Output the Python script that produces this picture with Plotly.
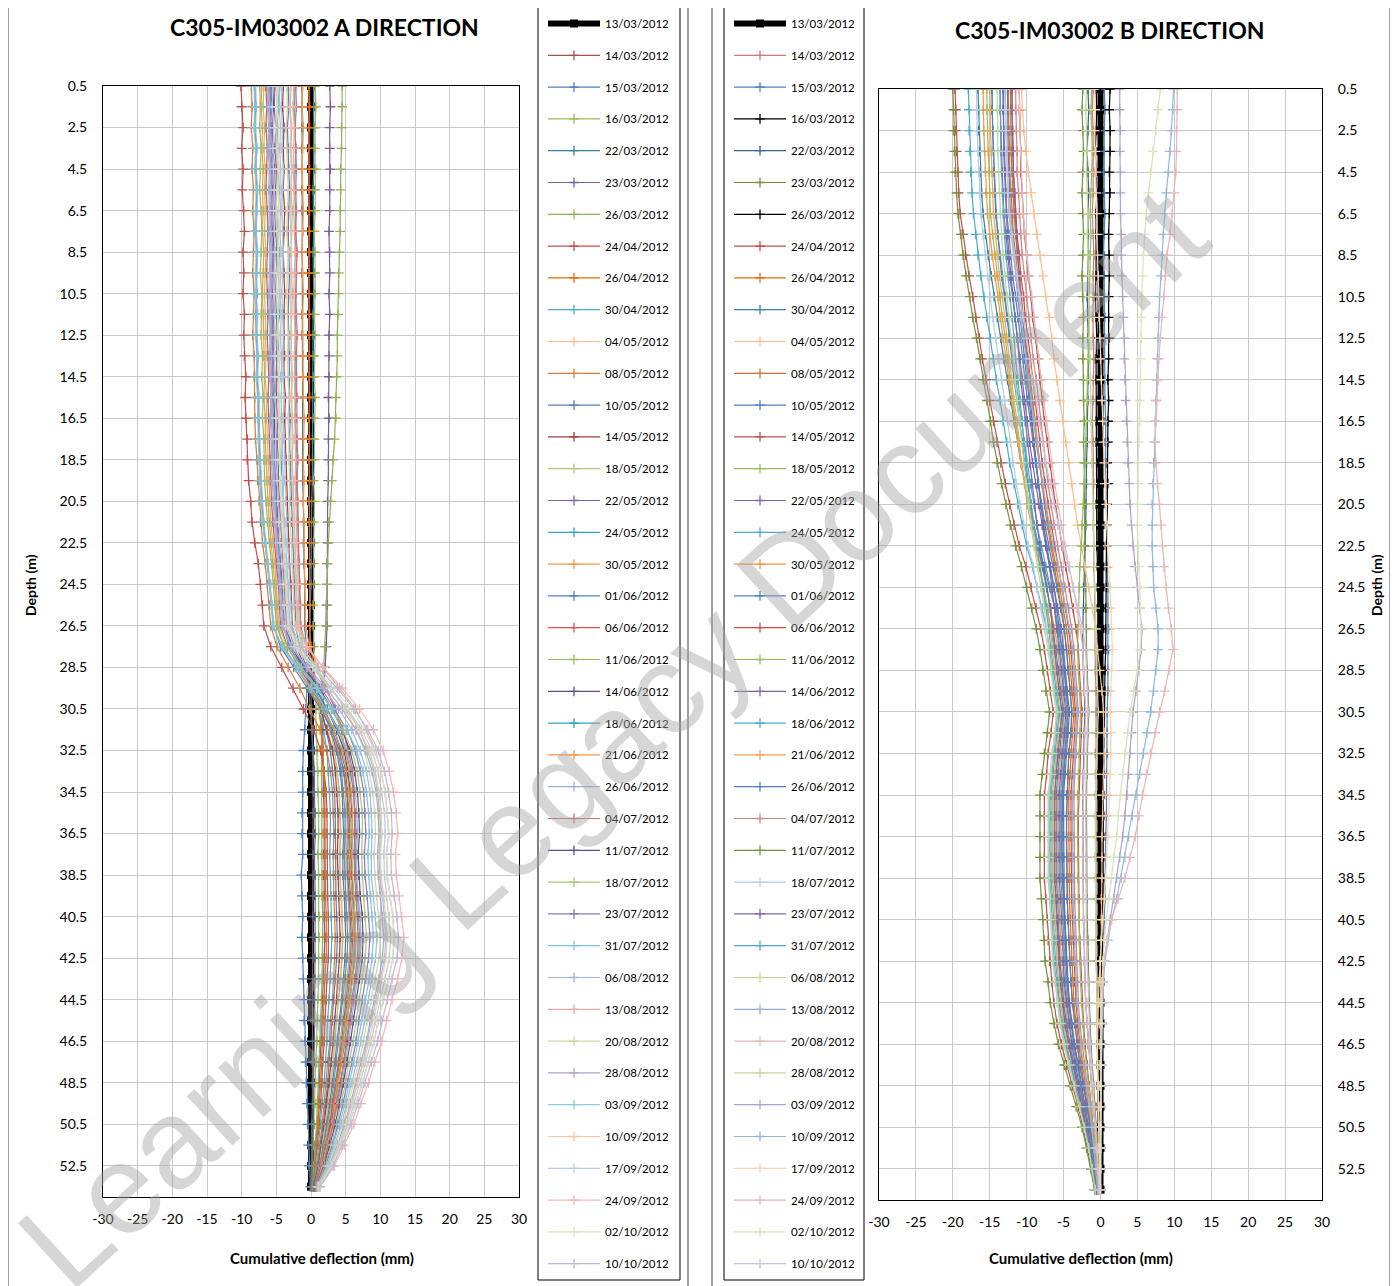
import plotly.graph_objects as go

DEPTH = [0.5, 1.5, 2.5, 3.5, 4.5, 5.5, 6.5, 7.5, 8.5, 9.5, 10.5, 11.5, 12.5, 13.5, 14.5, 15.5, 16.5, 17.5,
         18.5, 19.5, 20.5, 21.5, 22.5, 23.5, 24.5, 25.5, 26.5, 27.5, 28.5, 29.5, 30.5, 31.5, 32.5, 33.5, 34.5,
         35.5, 36.5, 37.5, 38.5, 39.5, 40.5, 41.5, 42.5, 43.5, 44.5, 45.5, 46.5, 47.5, 48.5, 49.5, 50.5, 51.5,
         52.5, 53.5]
DATES = ["13/03/2012", "14/03/2012", "15/03/2012", "16/03/2012", "22/03/2012", "23/03/2012", "26/03/2012",
         "24/04/2012", "26/04/2012", "30/04/2012", "04/05/2012", "08/05/2012", "10/05/2012", "14/05/2012",
         "18/05/2012", "22/05/2012", "24/05/2012", "30/05/2012", "01/06/2012", "06/06/2012", "11/06/2012",
         "14/06/2012", "18/06/2012", "21/06/2012", "26/06/2012", "04/07/2012", "11/07/2012", "18/07/2012",
         "23/07/2012", "31/07/2012", "06/08/2012", "13/08/2012", "20/08/2012", "28/08/2012", "03/09/2012",
         "10/09/2012", "17/09/2012", "24/09/2012", "02/10/2012", "10/10/2012"]
X_TICKS = [-30, -25, -20, -15, -10, -5, 0, 5, 10, 15, 20, 25, 30]
X_TICK_LABELS = ["-30", "-25", "-20", "-15", "-10", "-5", "0", "5", "10", "15", "20", "25", "30"]
Y_TICKS = [0.5, 2.5, 4.5, 6.5, 8.5, 10.5, 12.5, 14.5, 16.5, 18.5, 20.5, 22.5, 24.5, 26.5, 28.5, 30.5, 32.5,
           34.5, 36.5, 38.5, 40.5, 42.5, 44.5, 46.5, 48.5, 50.5, 52.5]

# ---------------- A direction (mm) ----------------
A_13_03 = [0, 0, 0, 0, 0, 0, 0, 0, 0, 0, 0, 0, 0, 0, 0, 0, 0, 0, 0, 0, 0, 0, 0, 0, 0, 0, 0,
           0, 0, 0, 0, 0, 0, 0, 0, 0, 0, 0, 0, 0, 0, 0, 0, 0, 0, 0, 0, 0, 0, 0, 0, 0, 0, 0]
A_14_03 = [-0.3,-0.3,-0.2,-0.3,-0.3,-0.2,-0.3,-0.3,-0.2,-0.3,-0.3,-0.3,-0.2,-0.3,-0.3,-0.2,-0.3,-0.3,-0.3,-0.2,-0.3,-0.2,-0.2,-0.2,-0.2,-0.2,-0.2,
           -0.2,-0.1,0.0,0.1,0.1,0.2,0.3,0.3,0.3,0.3,0.3,0.3,0.3,0.3,0.3,0.3,0.3,0.3,0.2,0.2,0.2,0.2,0.2,0.1,0.1,0.1,0.0]
A_15_03 = [0.4,0.4,0.5,0.4,0.4,0.3,0.4,0.4,0.3,0.4,0.4,0.3,0.3,0.3,0.3,0.2,0.3,0.2,0.2,0.2,0.1,0.1,0.1,0.0,0.0,-0.1,-0.1,
           -0.2,-0.4,-0.6,-0.8,-0.9,-1.1,-1.2,-1.2,-1.3,-1.3,-1.2,-1.4,-1.3,-1.2,-1.3,-1.2,-1.1,-1.0,-1.0,-0.9,-0.8,-0.7,-0.6,-0.5,-0.4,-0.3,-0.1]
A_16_03 = [0.6,0.7,0.6,0.6,0.7,0.6,0.6,0.5,0.6,0.6,0.6,0.5,0.6,0.5,0.5,0.6,0.5,0.5,0.5,0.4,0.5,0.4,0.4,0.4,0.4,0.3,0.3,
           0.4,0.5,0.6,0.7,0.8,0.9,1.0,1.0,1.1,1.1,1.0,1.1,1.1,1.2,1.2,1.1,1.1,1.0,0.9,0.9,0.8,0.7,0.6,0.5,0.4,0.3,0.1]
A_22_03 = [-1.3,-1.3,-1.3,-1.3,-1.3,-1.3,-1.3,-1.2,-1.3,-1.3,-1.2,-1.3,-1.3,-1.2,-1.2,-1.2,-1.2,-1.2,-1.2,-1.2,-1.1,-1.1,-1.1,-1.0,-0.9,-0.9,-0.9,
           -0.7,-0.5,-0.2,0.0,0.2,0.4,0.5,0.5,0.6,0.6,0.5,0.6,0.6,0.6,0.6,0.6,0.6,0.5,0.5,0.5,0.4,0.4,0.3,0.3,0.2,0.2,0.1]
A_23_03 = [2.7,2.8,2.7,2.7,2.8,2.7,2.7,2.6,2.7,2.7,2.6,2.7,2.6,2.6,2.6,2.5,2.6,2.5,2.5,2.5,2.4,2.4,2.4,2.3,2.3,2.3,2.3,
           2.2,2.0,1.8,1.7,1.7,1.7,1.8,1.8,1.9,1.9,1.8,1.8,1.9,1.9,2.0,1.9,1.8,1.7,1.6,1.5,1.4,1.2,1.1,0.9,0.7,0.5,0.2]
A_26_03 = [4.5,4.5,4.4,4.4,4.3,4.3,4.2,4.2,4.1,4.0,4.0,3.9,3.8,3.8,3.7,3.6,3.6,3.4,3.2,3.0,2.8,2.6,2.5,2.4,2.3,2.2,2.2,
           2.0,1.8,1.6,1.5,1.5,1.5,1.5,1.6,1.6,1.6,1.5,1.6,1.6,1.7,1.7,1.6,1.6,1.5,1.4,1.3,1.2,1.1,0.9,0.8,0.6,0.4,0.2]
A_24_04 = [-10.1,-10.0,-9.8,-10.0,-9.8,-9.9,-9.7,-9.6,-9.8,-9.7,-9.8,-9.6,-9.7,-9.6,-9.4,-9.5,-9.4,-9.2,-9.2,-9.0,-8.7,-8.5,-8.1,-7.6,-7.3,-7.0,-6.8,
           -5.8,-4.2,-2.6,-1.1,0.4,1.4,1.9,2.2,2.3,2.3,2.3,2.3,2.4,2.5,2.5,2.5,2.3,2.2,2.0,1.9,1.7,1.6,1.4,1.2,0.9,0.6,0.3]
A_26_04 = [-0.3,-0.2,-0.3,-0.3,-0.2,-0.3,-0.3,-0.2,-0.3,-0.3,-0.3,-0.2,-0.3,-0.3,-0.3,-0.2,-0.3,-0.3,-0.3,-0.2,-0.3,-0.3,-0.2,-0.2,-0.2,-0.2,-0.2,
           0.0,0.4,0.8,1.2,1.5,1.7,1.9,2.0,2.0,2.0,2.0,2.0,2.1,2.2,2.2,2.2,2.0,1.9,1.8,1.7,1.5,1.4,1.2,1.0,0.8,0.6,0.2]
A_30_04 = [-2.3,-2.4,-2.3,-2.2,-2.3,-2.4,-2.2,-2.3,-2.2,-2.1,-2.2,-2.3,-2.2,-2.2,-2.1,-2.2,-2.3,-2.1,-2.0,-2.1,-2.0,-1.9,-1.9,-1.8,-1.7,-1.6,-1.5,
           -1.2,-0.4,0.5,1.1,1.8,2.3,2.5,2.7,2.8,2.8,2.7,2.8,2.9,2.9,3.0,2.9,2.8,2.6,2.4,2.3,2.1,1.9,1.6,1.4,1.1,0.8,0.3]
A_04_05 = [-5.9,-6.0,-5.8,-5.9,-5.7,-5.8,-5.7,-5.8,-5.6,-5.7,-5.8,-5.7,-5.6,-5.7,-5.6,-5.5,-5.6,-5.5,-5.4,-5.3,-5.1,-5.0,-4.8,-4.6,-4.3,-4.1,-4.0,
           -3.1,-1.7,-0.2,1.1,2.4,3.2,3.7,4.0,4.1,4.2,4.1,4.1,4.3,4.4,4.5,4.4,4.2,3.9,3.7,3.4,3.1,2.8,2.4,2.1,1.6,1.1,0.5]
A_08_05 = [-8.6,-8.5,-8.6,-8.4,-8.5,-8.3,-8.4,-8.2,-8.3,-8.4,-8.2,-8.3,-8.4,-8.2,-8.2,-8.1,-8.1,-8.0,-7.8,-7.7,-7.5,-7.3,-7.0,-6.6,-6.3,-6.0,-5.8,
           -4.9,-3.3,-1.6,-0.2,1.3,2.3,2.8,3.1,3.2,3.3,3.2,3.2,3.3,3.4,3.5,3.4,3.3,3.1,2.8,2.7,2.4,2.2,1.9,1.6,1.3,0.9,0.4]
A_10_05 = [-3.3,-3.2,-3.4,-3.3,-3.2,-3.1,-3.2,-3.3,-3.2,-3.1,-3.2,-3.3,-3.2,-3.1,-3.1,-3.2,-3.0,-3.1,-3.0,-2.9,-2.9,-2.8,-2.7,-2.5,-2.4,-2.3,-2.2,
           -1.7,-0.7,0.4,1.4,2.2,2.8,3.1,3.4,3.5,3.5,3.5,3.5,3.6,3.7,3.8,3.7,3.5,3.3,3.1,2.9,2.6,2.4,2.1,1.8,1.4,1.0,0.4]
A_14_05 = [-4.0,-4.1,-3.9,-4.0,-3.9,-4.0,-3.8,-3.9,-4.0,-3.9,-3.8,-3.9,-3.9,-3.8,-3.9,-3.7,-3.8,-3.7,-3.6,-3.6,-3.5,-3.4,-3.2,-3.1,-2.9,-2.8,-2.7,
           -2.1,-0.9,0.4,1.4,2.3,3.1,3.5,3.7,3.9,3.9,3.8,3.9,4.0,4.1,4.2,4.1,3.9,3.7,3.4,3.2,2.9,2.6,2.3,1.9,1.5,1.1,0.4]
A_18_05 = [-2.9,-3.0,-2.8,-2.9,-2.8,-2.9,-2.7,-2.8,-2.9,-2.8,-2.7,-2.8,-2.9,-2.8,-2.7,-2.8,-2.7,-2.6,-2.7,-2.6,-2.5,-2.5,-2.3,-2.2,-2.1,-2.0,-1.9,
           -1.3,-0.3,0.9,2.0,2.8,3.4,3.8,4.1,4.2,4.3,4.2,4.2,4.4,4.5,4.6,4.5,4.3,4.0,3.7,3.5,3.2,2.9,2.5,2.1,1.7,1.2,0.5]
A_22_05 = [-5.2,-5.3,-5.1,-5.2,-5.0,-5.1,-5.0,-5.1,-4.9,-5.0,-5.1,-5.0,-4.9,-5.0,-4.9,-5.0,-4.8,-4.9,-4.7,-4.7,-4.6,-4.4,-4.2,-4.0,-3.8,-3.6,-3.5,
           -2.7,-1.3,0.2,1.6,2.8,3.7,4.2,4.5,4.6,4.7,4.6,4.6,4.8,4.9,5.0,4.9,4.7,4.4,4.1,3.8,3.5,3.1,2.7,2.3,1.8,1.3,0.5]
A_24_05 = [-4.8,-4.7,-4.9,-4.8,-4.7,-4.6,-4.7,-4.8,-4.6,-4.7,-4.7,-4.6,-4.8,-4.6,-4.5,-4.6,-4.5,-4.4,-4.4,-4.3,-4.2,-4.1,-3.9,-3.7,-3.5,-3.4,-3.2,
           -2.5,-1.0,0.5,1.9,3.0,3.9,4.4,4.7,4.9,4.9,4.8,4.9,5.0,5.2,5.3,5.2,4.9,4.6,4.3,4.0,3.7,3.3,2.9,2.4,1.9,1.3,0.5]
A_30_05 = [-7.1,-7.2,-7.0,-7.1,-6.9,-7.0,-6.9,-7.0,-6.8,-6.9,-7.0,-6.9,-6.8,-6.8,-6.7,-6.8,-6.6,-6.6,-6.5,-6.4,-6.2,-6.0,-5.8,-5.5,-5.2,-5.0,-4.8,
           -3.9,-2.1,-0.3,1.5,2.9,4.0,4.7,5.0,5.2,5.2,5.1,5.2,5.3,5.5,5.6,5.5,5.2,4.9,4.5,4.3,3.9,3.5,3.0,2.6,2.0,1.4,0.6]
A_01_06 = [-8.1,-8.0,-8.1,-7.9,-8.0,-7.8,-7.9,-8.0,-7.8,-7.9,-7.8,-8.0,-7.9,-7.7,-7.8,-7.6,-7.6,-7.5,-7.4,-7.3,-7.1,-6.9,-6.6,-6.2,-5.9,-5.7,-5.4,
           -4.4,-2.5,-0.5,1.4,3.0,4.1,4.7,5.2,5.3,5.4,5.3,5.3,5.5,5.7,5.8,5.7,5.4,5.1,4.7,4.4,4.0,3.6,3.1,2.7,2.1,1.5,0.6]
A_06_06 = [-6.5,-6.4,-6.5,-6.3,-6.4,-6.5,-6.3,-6.2,-6.3,-6.4,-6.3,-6.2,-6.3,-6.2,-6.1,-6.2,-6.1,-6.0,-5.9,-5.9,-5.7,-5.5,-5.3,-5.0,-4.7,-4.6,-4.4,
           -3.4,-1.7,0.2,1.9,3.3,4.3,5.0,5.3,5.5,5.6,5.5,5.5,5.7,5.9,6.0,5.9,5.6,5.2,4.9,4.6,4.1,3.7,3.2,2.8,2.2,1.5,0.6]
A_11_06 = [-7.4,-7.3,-7.4,-7.2,-7.3,-7.4,-7.2,-7.1,-7.2,-7.3,-7.1,-7.2,-7.2,-7.0,-7.1,-6.9,-7.0,-6.8,-6.8,-6.7,-6.5,-6.3,-6.0,-5.7,-5.4,-5.2,-5.0,
           -3.9,-2.1,-0.1,1.7,3.3,4.5,5.2,5.5,5.7,5.8,5.6,5.7,5.9,6.1,6.2,6.1,5.8,5.4,5.0,4.7,4.3,3.8,3.4,2.9,2.2,1.6,0.6]
A_14_06 = [-5.5,-5.4,-5.6,-5.4,-5.3,-5.4,-5.3,-5.4,-5.2,-5.3,-5.4,-5.3,-5.2,-5.3,-5.2,-5.1,-5.2,-5.1,-5.0,-5.0,-4.8,-4.7,-4.5,-4.2,-4.0,-3.9,-3.7,
           -2.8,-1.1,0.7,2.3,3.7,4.8,5.3,5.7,5.9,6.0,5.8,5.9,6.1,6.3,6.4,6.3,6.0,5.6,5.2,4.9,4.4,4.0,3.5,2.9,2.3,1.6,0.6]
A_18_06 = [-6.0,-6.1,-5.9,-6.0,-5.8,-5.9,-5.8,-5.9,-5.7,-5.8,-5.9,-5.8,-5.7,-5.8,-5.7,-5.6,-5.7,-5.5,-5.5,-5.4,-5.3,-5.1,-4.9,-4.6,-4.4,-4.2,-4.0,
           -3.1,-1.3,0.7,2.4,4.0,5.0,5.7,6.1,6.3,6.3,6.2,6.3,6.5,6.7,6.8,6.7,6.3,5.9,5.5,5.2,4.7,4.2,3.7,3.1,2.5,1.7,0.7]
A_21_06 = [-1.2,-1.3,-1.1,-1.2,-1.3,-1.2,-1.1,-1.2,-1.3,-1.2,-1.1,-1.2,-1.2,-1.1,-1.2,-1.1,-1.0,-1.1,-1.1,-1.0,-1.1,-1.0,-1.0,-0.9,-0.9,-0.8,-0.8,
           -0.2,1.0,2.3,3.5,4.4,5.0,5.5,5.8,6.0,6.0,5.9,6.0,6.2,6.4,6.5,6.4,6.0,5.7,5.3,4.9,4.5,4.0,3.5,3.0,2.3,1.6,0.7]
A_26_06 = [-8.0,-7.9,-8.0,-7.8,-7.9,-7.7,-7.8,-7.9,-7.7,-7.8,-7.9,-7.7,-7.8,-7.6,-7.7,-7.5,-7.5,-7.4,-7.3,-7.2,-7.0,-6.8,-6.5,-6.2,-5.8,-5.6,-5.4,
           -4.2,-2.1,0.1,2.2,3.9,5.2,5.9,6.4,6.6,6.7,6.6,6.6,6.8,7.1,7.2,7.1,6.7,6.3,5.8,5.5,5.0,4.5,3.9,3.3,2.6,1.8,0.7]
A_04_07 = [-2.2,-2.1,-2.3,-2.2,-2.1,-2.2,-2.1,-2.2,-2.0,-2.1,-2.2,-2.1,-2.0,-2.1,-2.1,-2.0,-2.1,-2.0,-1.9,-2.0,-1.9,-1.9,-1.8,-1.7,-1.6,-1.5,-1.5,
           -0.7,0.6,2.1,3.5,4.6,5.4,6.0,6.2,6.4,6.5,6.4,6.4,6.7,6.9,7.0,6.9,6.5,6.1,5.7,5.3,4.8,4.3,3.8,3.2,2.5,1.8,0.7]
A_11_07 = [-5.6,-5.7,-5.5,-5.6,-5.4,-5.5,-5.4,-5.5,-5.3,-5.4,-5.5,-5.4,-5.3,-5.4,-5.3,-5.2,-5.3,-5.2,-5.1,-5.0,-4.9,-4.8,-4.5,-4.3,-4.1,-3.9,-3.8,
           -2.8,-0.9,1.2,3.0,4.5,5.6,6.3,6.7,6.9,7.0,6.8,6.9,7.1,7.4,7.5,7.4,7.0,6.5,6.1,5.7,5.2,4.7,4.1,3.5,2.7,1.9,0.8]
A_18_07 = [-6.8,-6.9,-6.7,-6.8,-6.6,-6.7,-6.6,-6.7,-6.5,-6.6,-6.7,-6.6,-6.5,-6.5,-6.6,-6.4,-6.4,-6.3,-6.2,-6.1,-6.0,-5.8,-5.5,-5.2,-5.0,-4.8,-4.6,
           -3.5,-1.4,1.0,2.9,4.6,5.9,6.7,7.1,7.4,7.4,7.3,7.4,7.6,7.8,8.0,7.8,7.4,7.0,6.5,6.1,5.5,5.0,4.3,3.7,2.9,2.0,0.8]
A_23_07 = [-5.8,-5.9,-5.7,-5.8,-5.6,-5.7,-5.6,-5.7,-5.5,-5.6,-5.7,-5.6,-5.5,-5.6,-5.5,-5.4,-5.5,-5.4,-5.3,-5.2,-5.1,-4.9,-4.7,-4.5,-4.2,-4.1,-3.9,
           -2.8,-0.8,1.5,3.4,5.2,6.4,7.1,7.6,7.8,7.9,7.7,7.8,8.1,8.3,8.5,8.3,7.9,7.4,6.9,6.5,5.9,5.3,4.6,3.9,3.1,2.1,0.9]
A_31_07 = [-8.2,-8.1,-8.2,-8.0,-8.1,-7.9,-8.0,-8.1,-7.9,-8.0,-8.1,-7.9,-8.0,-7.8,-7.9,-7.7,-7.7,-7.6,-7.5,-7.4,-7.2,-7.0,-6.6,-6.3,-6.0,-5.7,-5.5,
           -4.2,-1.7,0.8,3.1,5.2,6.6,7.5,8.0,8.3,8.4,8.2,8.3,8.6,8.8,9.0,8.8,8.4,7.8,7.3,6.8,6.2,5.6,4.9,4.1,3.2,2.3,0.9]
A_06_08 = [-6.1,-6.0,-6.0,-5.9,-5.9,-5.8,-5.9,-5.8,-5.7,-5.8,-5.8,-5.9,-5.8,-5.7,-5.8,-5.7,-5.6,-5.6,-5.5,-5.4,-5.3,-5.1,-4.9,-4.6,-4.4,-4.2,-4.0,
           -2.8,-0.6,1.8,4.0,5.9,7.1,8.0,8.5,8.7,8.8,8.7,8.7,9.0,9.3,9.5,9.3,8.8,8.3,7.7,7.2,6.6,5.9,5.1,4.4,3.4,2.4,1.0]
A_13_08 = [-2.5,-2.6,-2.4,-2.5,-2.6,-2.4,-2.5,-2.4,-2.3,-2.4,-2.5,-2.4,-2.3,-2.4,-2.4,-2.3,-2.4,-2.3,-2.2,-2.3,-2.2,-2.1,-2.0,-1.9,-1.8,-1.8,-1.7,
           -0.5,1.7,4.1,6.4,8.0,9.3,10.1,10.7,11.0,11.2,10.9,11.0,11.4,11.8,12.0,11.8,11.2,10.4,9.7,9.1,8.3,7.4,6.5,5.5,4.3,3.0,1.2]
A_20_08 = [-3.5,-3.4,-3.6,-3.5,-3.4,-3.3,-3.4,-3.5,-3.3,-3.4,-3.5,-3.4,-3.3,-3.4,-3.3,-3.2,-3.3,-3.2,-3.2,-3.1,-3.1,-3.0,-2.8,-2.7,-2.6,-2.5,-2.3,
           -1.3,0.7,2.9,4.9,6.5,7.7,8.4,8.9,9.2,9.3,9.1,9.2,9.5,9.8,10.0,9.8,9.3,8.7,8.1,7.6,6.9,6.2,5.4,4.6,3.6,2.5,1.0]
A_28_08 = [-6.2,-6.3,-6.1,-6.2,-6.0,-6.1,-6.0,-6.1,-5.9,-6.0,-6.1,-6.0,-5.9,-6.0,-5.9,-5.8,-5.9,-5.7,-5.7,-5.6,-5.5,-5.3,-5.0,-4.8,-4.5,-4.3,-4.2,
           -2.9,-0.5,2.2,4.5,6.5,7.9,8.8,9.4,9.7,9.8,9.6,9.7,10.0,10.3,10.5,10.3,9.8,9.1,8.5,8.0,7.2,6.5,5.7,4.8,3.8,2.6,1.1]
A_03_09 = [-4.5,-4.6,-4.4,-4.5,-4.4,-4.3,-4.4,-4.5,-4.3,-4.4,-4.5,-4.3,-4.4,-4.3,-4.2,-4.3,-4.2,-4.1,-4.1,-4.0,-4.0,-3.8,-3.6,-3.5,-3.3,-3.2,-3.0,
           -1.8,0.4,2.9,5.2,7.0,8.2,9.1,9.6,9.9,10.0,9.8,9.9,10.3,10.6,10.8,10.6,10.0,9.4,8.8,8.2,7.5,6.7,5.8,5.0,3.9,2.7,1.1]
A_10_09 = [-5.0,-4.9,-5.1,-5.0,-4.8,-4.9,-5.0,-4.9,-4.8,-4.9,-5.0,-4.8,-4.9,-4.8,-4.7,-4.8,-4.7,-4.6,-4.6,-4.5,-4.4,-4.3,-4.1,-3.9,-3.7,-3.5,-3.4,
           -2.1,0.2,2.8,5.1,7.0,8.4,9.3,9.8,10.1,10.2,10.0,10.1,10.5,10.8,11.0,10.8,10.2,9.6,8.9,8.4,7.6,6.8,5.9,5.1,4.0,2.8,1.1]
A_17_09 = [-5.5,-5.6,-5.4,-5.5,-5.4,-5.3,-5.4,-5.3,-5.2,-5.3,-5.4,-5.3,-5.2,-5.3,-5.2,-5.2,-5.1,-5.1,-5.1,-4.9,-4.8,-4.7,-4.5,-4.2,-4.0,-3.9,-3.7,
           -2.4,0.2,2.8,5.3,7.3,8.8,9.7,10.2,10.6,10.7,10.5,10.6,10.9,11.3,11.5,11.3,10.7,10.0,9.3,8.7,7.9,7.1,6.2,5.3,4.1,2.9,1.2]
A_24_09 = [-3.0,-3.1,-2.9,-3.0,-2.8,-2.9,-3.0,-2.9,-2.8,-2.9,-3.0,-2.9,-2.8,-2.9,-2.8,-2.9,-2.8,-2.7,-2.8,-2.7,-2.6,-2.6,-2.4,-2.3,-2.2,-2.1,-2.0,
           -0.7,1.8,4.5,7.0,9.0,10.4,11.3,11.9,12.3,12.5,12.2,12.3,12.7,13.1,13.4,13.1,12.5,11.7,10.9,10.2,9.2,8.3,7.2,6.2,4.8,3.4,1.3]
A_02_10 = [-4.8,-4.9,-4.7,-4.8,-4.6,-4.7,-4.7,-4.6,-4.7,-4.6,-4.7,-4.8,-4.6,-4.6,-4.6,-4.5,-4.5,-4.4,-4.5,-4.3,-4.2,-4.1,-3.9,-3.7,-3.5,-3.4,-3.2,
           -1.9,0.6,3.3,5.8,7.7,9.2,10.1,10.7,11.0,11.2,10.9,11.0,11.4,11.8,12.0,11.8,11.2,10.4,9.7,9.1,8.3,7.4,6.5,5.5,4.3,3.0,1.2]
A_10_10 = [-4.2,-4.3,-4.1,-4.2,-4.0,-4.1,-4.2,-4.1,-4.0,-4.1,-4.2,-4.1,-4.0,-4.1,-4.0,-3.9,-4.0,-3.9,-3.8,-3.8,-3.7,-3.6,-3.4,-3.2,-3.1,-2.9,-2.8,
           -1.5,1.0,3.8,6.2,8.2,9.7,10.6,11.2,11.6,11.7,11.5,11.6,12.0,12.4,12.6,12.4,11.7,11.0,10.2,9.6,8.7,7.8,6.8,5.8,4.5,3.2,1.3]

# ---------------- B direction (mm) ----------------
B_13_03 = [0, 0, 0, 0, 0, 0, 0, 0, 0, 0, 0, 0, 0, 0, 0, 0, 0, 0, 0, 0, 0, 0, 0, 0, 0, 0, 0,
           0, 0, 0, 0, 0, 0, 0, 0, 0, 0, 0, 0, 0, 0, 0, 0, 0, 0, 0, 0, 0, 0, 0, 0, 0, 0, 0]
B_14_03 = [-1.0,-1.1,-1.0,-1.0,-0.9,-1.0,-1.1,-1.0,-0.9,-1.0,-1.0,-1.1,-1.0,-0.9,-1.0,-1.0,-1.1,-1.0,-1.0,-0.9,-1.0,-1.0,-0.9,-0.9,-0.8,-0.8,-0.7,
           -0.7,-0.7,-0.6,-0.6,-0.6,-0.7,-0.7,-0.7,-0.7,-0.6,-0.7,-0.7,-0.6,-0.6,-0.6,-0.6,-0.5,-0.5,-0.5,-0.4,-0.4,-0.3,-0.3,-0.2,-0.2,-0.1,-0.1]
B_15_03 = [0.5,0.6,0.5,0.5,0.4,0.5,0.6,0.5,0.4,0.5,0.5,0.6,0.6,0.5,0.6,0.6,0.7,0.7,0.6,0.7,0.8,0.8,0.9,0.9,1.0,1.0,1.1,
           1.1,1.0,1.0,0.9,0.9,0.9,0.8,0.8,0.8,0.7,0.7,0.6,0.6,0.5,0.4,0.3,0.3,0.2,0.2,0.2,0.1,0.1,0.1,0.1,0.0,0.0,0.0]
B_16_03 = [1.3,1.2,1.3,1.3,1.2,1.3,1.2,1.1,1.2,1.2,1.1,1.1,1.2,1.1,1.0,1.1,1.0,1.0,0.9,1.0,0.9,0.9,0.8,0.8,0.8,0.7,0.7,
           0.7,0.6,0.6,0.5,0.5,0.5,0.4,0.4,0.4,0.3,0.3,0.3,0.3,0.2,0.2,0.2,0.1,0.1,0.1,0.1,0.1,0.1,0.0,0.0,0.0,0.0,0.0]
B_22_03 = [-1.7,-1.6,-1.7,-1.8,-1.7,-1.6,-1.7,-1.7,-1.6,-1.7,-1.8,-1.7,-1.7,-1.6,-1.7,-1.7,-1.8,-1.8,-1.9,-1.9,-2.0,-2.0,-2.1,-2.2,-2.3,-2.3,-2.4,
           -2.4,-2.3,-2.2,-2.1,-2.2,-2.3,-2.3,-2.4,-2.4,-2.4,-2.4,-2.4,-2.3,-2.3,-2.2,-2.2,-2.1,-2.0,-1.8,-1.7,-1.4,-1.2,-1.0,-0.7,-0.6,-0.4,-0.2]
B_23_03 = [-2.4,-2.5,-2.4,-2.3,-2.4,-2.5,-2.4,-2.3,-2.4,-2.5,-2.4,-2.3,-2.4,-2.4,-2.3,-2.3,-2.2,-2.3,-2.2,-2.2,-2.1,-2.1,-2.2,-2.1,-2.0,-2.0,-1.9,
           -1.9,-1.8,-1.7,-1.6,-1.7,-1.8,-1.8,-1.9,-1.9,-1.9,-1.9,-1.9,-1.8,-1.8,-1.7,-1.7,-1.6,-1.5,-1.4,-1.3,-1.1,-0.9,-0.7,-0.6,-0.4,-0.3,-0.2]
B_26_03 = [-0.6,-0.5,-0.6,-0.7,-0.6,-0.5,-0.6,-0.6,-0.5,-0.6,-0.7,-0.6,-0.5,-0.6,-0.6,-0.5,-0.6,-0.6,-0.5,-0.5,-0.6,-0.5,-0.5,-0.4,-0.4,-0.3,-0.3,
           -0.3,-0.2,-0.2,-0.1,-0.2,-0.2,-0.3,-0.3,-0.3,-0.3,-0.3,-0.3,-0.3,-0.3,-0.3,-0.3,-0.2,-0.2,-0.2,-0.2,-0.1,-0.1,-0.1,-0.1,0.0,0.0,0.0]
B_24_04 = [-12.0,-12.0,-11.9,-11.8,-11.8,-11.6,-11.5,-11.3,-11.0,-10.8,-10.4,-10.2,-9.8,-9.5,-9.2,-8.9,-8.6,-8.2,-7.9,-7.5,-7.1,-6.7,-6.2,-5.7,-5.2,-4.7,-4.3,
           -4.0,-3.8,-3.6,-3.4,-3.5,-3.7,-3.8,-4.0,-4.0,-4.0,-4.0,-4.0,-3.9,-3.8,-3.7,-3.6,-3.5,-3.3,-3.1,-2.8,-2.4,-2.0,-1.6,-1.2,-0.9,-0.6,-0.4]
B_26_04 = [-12.5,-12.5,-12.4,-12.3,-12.3,-12.1,-12.0,-11.8,-11.5,-11.2,-10.9,-10.6,-10.3,-10.0,-9.6,-9.3,-9.0,-8.7,-8.3,-7.9,-7.5,-7.1,-6.6,-6.0,-5.5,-5.0,-4.6,
           -4.3,-4.1,-3.9,-3.6,-3.8,-4.0,-4.1,-4.3,-4.3,-4.3,-4.3,-4.3,-4.2,-4.1,-4.0,-3.9,-3.7,-3.6,-3.3,-3.0,-2.6,-2.2,-1.7,-1.3,-1.0,-0.7,-0.4]
B_30_04 = [-16.6,-16.5,-16.5,-16.4,-16.3,-16.1,-15.9,-15.6,-15.2,-14.8,-14.4,-14.0,-13.5,-13.1,-12.6,-12.2,-11.7,-11.2,-10.8,-10.2,-9.7,-9.1,-8.4,-7.6,-6.9,-6.2,-5.7,
           -5.2,-4.9,-4.7,-4.4,-4.6,-4.8,-5.0,-5.2,-5.2,-5.2,-5.2,-5.2,-5.0,-4.9,-4.8,-4.7,-4.5,-4.3,-4.0,-3.6,-3.1,-2.6,-2.1,-1.6,-1.2,-0.8,-0.5]
B_04_05 = [-10.7,-10.6,-10.4,-10.1,-9.8,-9.4,-9.0,-8.6,-8.2,-7.8,-7.4,-6.9,-6.6,-6.3,-5.9,-5.5,-5.1,-4.7,-4.3,-3.9,-3.5,-3.1,-2.6,-2.1,-1.6,-1.1,-0.7,
           -0.4,-0.1,0.2,0.4,0.5,0.5,0.4,0.3,0.3,0.2,0.2,0.2,0.1,0.1,0.1,0.0,0.0,-0.1,-0.1,-0.1,-0.1,-0.1,-0.1,-0.1,0.0,0.0,0.0]
B_08_05 = [-12.2,-12.2,-12.1,-12.1,-12.0,-11.9,-11.7,-11.5,-11.3,-11.0,-10.7,-10.5,-10.2,-9.8,-9.5,-9.2,-8.9,-8.6,-8.3,-7.9,-7.6,-7.2,-6.7,-6.2,-5.7,-5.3,-4.9,
           -4.6,-4.4,-4.1,-3.9,-4.0,-4.3,-4.4,-4.6,-4.6,-4.6,-4.6,-4.6,-4.5,-4.4,-4.3,-4.2,-4.0,-3.8,-3.5,-3.2,-2.8,-2.3,-1.8,-1.4,-1.1,-0.7,-0.5]
B_10_05 = [-12.6,-12.6,-12.5,-12.5,-12.4,-12.3,-12.2,-11.9,-11.7,-11.5,-11.2,-10.9,-10.6,-10.3,-10.0,-9.7,-9.4,-9.1,-8.8,-8.5,-8.1,-7.7,-7.3,-6.8,-6.3,-5.9,-5.5,
           -5.2,-4.9,-4.7,-4.4,-4.6,-4.8,-5.0,-5.2,-5.2,-5.3,-5.2,-5.1,-5.0,-4.9,-4.8,-4.7,-4.5,-4.3,-4.0,-3.6,-3.1,-2.6,-2.1,-1.6,-1.2,-0.8,-0.5]
B_14_05 = [-11.0,-11.0,-10.9,-10.8,-10.8,-10.6,-10.5,-10.3,-10.0,-9.8,-9.4,-9.2,-8.8,-8.5,-8.2,-7.9,-7.6,-7.2,-6.9,-6.5,-6.1,-5.7,-5.2,-4.7,-4.2,-3.7,-3.3,
           -3.0,-2.9,-2.7,-2.5,-2.6,-2.8,-2.9,-3.0,-3.0,-3.0,-3.0,-3.0,-2.9,-2.9,-2.8,-2.7,-2.6,-2.5,-2.3,-2.1,-1.8,-1.5,-1.2,-0.9,-0.7,-0.5,-0.3]
B_18_05 = [-1.2,-1.3,-1.2,-1.1,-1.2,-1.3,-1.4,-1.3,-1.4,-1.5,-1.5,-1.6,-1.6,-1.7,-1.8,-1.8,-1.9,-2.0,-2.1,-2.2,-2.3,-2.5,-2.6,-2.8,-2.9,-3.0,-3.1,
           -3.1,-3.0,-2.8,-2.7,-2.8,-2.9,-3.0,-3.1,-3.1,-3.1,-3.1,-3.1,-3.0,-2.9,-2.9,-2.8,-2.7,-2.6,-2.4,-2.2,-1.9,-1.6,-1.2,-1.0,-0.7,-0.5,-0.3]
B_22_05 = [-13.6,-13.6,-13.5,-13.4,-13.3,-13.2,-13.1,-12.8,-12.6,-12.3,-11.9,-11.6,-11.3,-10.9,-10.6,-10.3,-9.9,-9.6,-9.2,-8.8,-8.4,-7.9,-7.4,-6.8,-6.3,-5.8,-5.3,
           -5.0,-4.8,-4.5,-4.2,-4.4,-4.7,-4.8,-5.0,-5.0,-5.0,-5.0,-5.0,-4.9,-4.8,-4.7,-4.6,-4.4,-4.2,-3.9,-3.5,-3.0,-2.5,-2.0,-1.6,-1.2,-0.8,-0.5]
B_24_05 = [-14.7,-14.7,-14.6,-14.5,-14.4,-14.3,-14.1,-13.9,-13.6,-13.3,-12.9,-12.6,-12.2,-11.8,-11.4,-11.1,-10.7,-10.3,-10.0,-9.5,-9.0,-8.6,-8.0,-7.4,-6.8,-6.2,-5.8,
           -5.4,-5.1,-4.9,-4.5,-4.8,-5.0,-5.2,-5.4,-5.4,-5.4,-5.4,-5.4,-5.2,-5.1,-5.0,-4.9,-4.7,-4.5,-4.2,-3.8,-3.2,-2.7,-2.2,-1.7,-1.2,-0.9,-0.5]
B_30_05 = [-15.9,-15.9,-15.8,-15.7,-15.6,-15.5,-15.3,-15.0,-14.7,-14.3,-13.9,-13.6,-13.2,-12.8,-12.4,-12.0,-11.6,-11.2,-10.8,-10.2,-9.7,-9.2,-8.6,-7.9,-7.3,-6.7,-6.2,
           -5.8,-5.5,-5.2,-4.9,-5.1,-5.4,-5.6,-5.8,-5.8,-5.8,-5.8,-5.8,-5.6,-5.5,-5.4,-5.3,-5.0,-4.8,-4.5,-4.1,-3.5,-2.9,-2.3,-1.8,-1.3,-0.9,-0.6]
B_01_06 = [-14.7,-14.7,-14.6,-14.5,-14.4,-14.3,-14.2,-13.9,-13.7,-13.4,-13.0,-12.7,-12.4,-12.0,-11.7,-11.3,-11.0,-10.6,-10.3,-9.8,-9.4,-9.0,-8.4,-7.8,-7.3,-6.8,-6.4,
           -6.0,-5.7,-5.4,-5.0,-5.3,-5.6,-5.8,-6.0,-6.0,-6.0,-6.0,-6.0,-5.8,-5.7,-5.6,-5.5,-5.2,-5.0,-4.6,-4.2,-3.6,-3.0,-2.4,-1.9,-1.4,-1.0,-0.6]
B_06_06 = [-19.7,-19.6,-19.6,-19.5,-19.3,-19.2,-19.0,-18.6,-18.3,-17.8,-17.3,-16.9,-16.4,-16.0,-15.5,-15.0,-14.5,-14.0,-13.5,-12.9,-12.3,-11.7,-11.0,-10.1,-9.4,-8.7,-8.1,
           -7.6,-7.2,-6.8,-6.4,-6.7,-7.1,-7.3,-7.6,-7.6,-7.6,-7.6,-7.6,-7.4,-7.2,-7.1,-6.9,-6.6,-6.3,-5.9,-5.3,-4.6,-3.8,-3.0,-2.4,-1.7,-1.2,-0.8]
B_11_06 = [-15.4,-15.4,-15.3,-15.2,-15.1,-15.0,-14.9,-14.6,-14.3,-14.0,-13.6,-13.3,-12.9,-12.6,-12.2,-11.9,-11.5,-11.1,-10.8,-10.3,-9.9,-9.4,-8.9,-8.2,-7.7,-7.1,-6.7,
           -6.3,-6.0,-5.7,-5.3,-5.5,-5.9,-6.0,-6.3,-6.3,-6.3,-6.3,-6.3,-6.1,-6.0,-5.9,-5.7,-5.5,-5.2,-4.9,-4.4,-3.8,-3.2,-2.5,-2.0,-1.4,-1.0,-0.6]
B_14_06 = [-12.0,-12.0,-11.9,-11.9,-11.8,-11.7,-11.6,-11.4,-11.2,-11.0,-10.8,-10.5,-10.3,-10.0,-9.8,-9.5,-9.3,-9.0,-8.7,-8.4,-8.1,-7.8,-7.4,-6.9,-6.6,-6.2,-5.9,
           -5.6,-5.3,-5.0,-4.7,-4.9,-5.2,-5.4,-5.6,-5.6,-5.6,-5.6,-5.6,-5.4,-5.3,-5.2,-5.1,-4.9,-4.6,-4.3,-3.9,-3.4,-2.8,-2.2,-1.7,-1.3,-0.9,-0.6]
B_18_06 = [-17.9,-17.8,-17.8,-17.7,-17.6,-17.4,-17.2,-16.9,-16.6,-16.2,-15.8,-15.4,-14.9,-14.5,-14.1,-13.6,-13.2,-12.7,-12.3,-11.7,-11.2,-10.6,-10.0,-9.2,-8.6,-7.9,-7.3,
           -6.9,-6.6,-6.2,-5.8,-6.1,-6.4,-6.6,-6.9,-6.9,-6.9,-6.9,-6.9,-6.7,-6.6,-6.4,-6.3,-6.0,-5.7,-5.3,-4.8,-4.1,-3.5,-2.8,-2.1,-1.6,-1.1,-0.7]
B_21_06 = [-15.0,-15.0,-14.9,-14.8,-14.7,-14.6,-14.5,-14.2,-14.0,-13.7,-13.3,-13.0,-12.7,-12.4,-12.0,-11.7,-11.3,-11.0,-10.7,-10.2,-9.8,-9.4,-8.9,-8.3,-7.8,-7.3,-6.8,
           -6.5,-6.2,-5.9,-5.5,-5.7,-6.0,-6.2,-6.5,-6.5,-6.5,-6.5,-6.5,-6.3,-6.2,-6.0,-5.9,-5.7,-5.4,-5.0,-4.6,-3.9,-3.3,-2.6,-2.0,-1.5,-1.0,-0.7]
B_26_06 = [-13.2,-13.2,-13.1,-13.0,-12.9,-12.8,-12.7,-12.4,-12.2,-11.9,-11.5,-11.2,-10.9,-10.5,-10.2,-9.9,-9.5,-9.2,-8.8,-8.4,-8.0,-7.5,-7.0,-6.4,-5.9,-5.4,-4.9,
           -4.6,-4.4,-4.1,-3.9,-4.0,-4.3,-4.4,-4.6,-4.6,-4.6,-4.6,-4.6,-4.5,-4.4,-4.3,-4.2,-4.0,-3.8,-3.5,-3.2,-2.8,-2.3,-1.8,-1.4,-1.1,-0.7,-0.5]
B_04_07 = [-11.5,-11.5,-11.4,-11.3,-11.3,-11.1,-11.0,-10.8,-10.6,-10.3,-10.0,-9.7,-9.4,-9.1,-8.7,-8.4,-8.1,-7.8,-7.5,-7.1,-6.7,-6.3,-5.8,-5.3,-4.8,-4.3,-3.9,
           -3.6,-3.4,-3.2,-3.0,-3.2,-3.3,-3.5,-3.6,-3.6,-3.6,-3.6,-3.6,-3.5,-3.4,-3.3,-3.3,-3.1,-3.0,-2.8,-2.5,-2.2,-1.8,-1.4,-1.1,-0.8,-0.6,-0.4]
B_11_07 = [-20.0,-19.9,-19.9,-19.8,-19.7,-19.5,-19.3,-18.9,-18.6,-18.2,-17.7,-17.3,-16.8,-16.3,-15.9,-15.4,-14.9,-14.5,-14.0,-13.4,-12.8,-12.2,-11.5,-10.7,-10.0,-9.3,-8.7,
           -8.2,-7.8,-7.4,-6.9,-7.2,-7.6,-7.9,-8.2,-8.2,-8.2,-8.2,-8.2,-8.0,-7.8,-7.6,-7.5,-7.1,-6.8,-6.3,-5.7,-4.9,-4.1,-3.3,-2.5,-1.9,-1.3,-0.8]
B_18_07 = [-16.8,-16.8,-16.7,-16.6,-16.5,-16.4,-16.2,-15.9,-15.6,-15.3,-14.9,-14.6,-14.2,-13.8,-13.4,-13.0,-12.6,-12.2,-11.9,-11.4,-10.9,-10.4,-9.8,-9.1,-8.6,-8.0,-7.5,
           -7.1,-6.7,-6.4,-6.0,-6.2,-6.6,-6.8,-7.1,-7.1,-7.1,-7.1,-7.1,-6.9,-6.7,-6.6,-6.5,-6.2,-5.9,-5.5,-5.0,-4.3,-3.6,-2.8,-2.2,-1.6,-1.1,-0.7]
B_23_07 = [-13.2,-13.2,-13.1,-13.1,-13.0,-12.9,-12.8,-12.6,-12.4,-12.1,-11.8,-11.6,-11.3,-11.0,-10.8,-10.5,-10.2,-9.9,-9.6,-9.3,-8.9,-8.6,-8.2,-7.7,-7.3,-6.8,-6.5,
           -6.2,-5.9,-5.6,-5.2,-5.5,-5.8,-6.0,-6.2,-6.2,-6.2,-6.2,-6.2,-6.0,-5.9,-5.8,-5.6,-5.4,-5.1,-4.8,-4.3,-3.7,-3.1,-2.5,-1.9,-1.4,-1.0,-0.6]
B_31_07 = [-13.6,-13.6,-13.5,-13.5,-13.4,-13.3,-13.2,-13.0,-12.8,-12.5,-12.3,-12.0,-11.7,-11.5,-11.2,-10.9,-10.6,-10.4,-10.1,-9.7,-9.4,-9.1,-8.6,-8.2,-7.7,-7.3,-7.0,
           -6.7,-6.4,-6.0,-5.6,-5.9,-6.2,-6.4,-6.7,-6.7,-6.7,-6.7,-6.7,-6.5,-6.4,-6.2,-6.1,-5.8,-5.6,-5.2,-4.7,-4.0,-3.4,-2.7,-2.1,-1.5,-1.1,-0.7]
B_06_08 = [-14.0,-14.0,-13.9,-13.9,-13.8,-13.7,-13.6,-13.4,-13.2,-12.9,-12.6,-12.4,-12.1,-11.8,-11.6,-11.3,-11.0,-10.7,-10.4,-10.1,-9.7,-9.4,-9.0,-8.5,-8.1,-7.6,-7.3,
           -7.0,-6.7,-6.3,-5.9,-6.2,-6.5,-6.7,-7.0,-7.0,-7.0,-7.0,-7.0,-6.8,-6.7,-6.5,-6.4,-6.1,-5.8,-5.4,-4.9,-4.2,-3.5,-2.8,-2.2,-1.6,-1.1,-0.7]
B_13_08 = [-12.9,-12.9,-12.8,-12.7,-12.6,-12.5,-12.4,-12.1,-11.8,-11.5,-11.1,-10.8,-10.4,-10.1,-9.7,-9.4,-9.0,-8.6,-8.3,-7.8,-7.4,-6.9,-6.4,-5.7,-5.2,-4.6,-4.2,
           -3.8,-3.6,-3.4,-3.2,-3.3,-3.5,-3.6,-3.8,-3.8,-3.8,-3.8,-3.8,-3.7,-3.6,-3.5,-3.5,-3.3,-3.2,-2.9,-2.7,-2.3,-1.9,-1.5,-1.2,-0.9,-0.6,-0.4]
B_20_08 = [-11.0,-11.0,-10.9,-10.8,-10.7,-10.6,-10.5,-10.2,-10.0,-9.7,-9.3,-9.0,-8.7,-8.3,-8.0,-7.7,-7.3,-7.0,-6.6,-6.2,-5.8,-5.3,-4.8,-4.2,-3.7,-3.2,-2.7,
           -2.4,-2.3,-2.2,-2.0,-2.1,-2.2,-2.3,-2.4,-2.4,-2.4,-2.4,-2.4,-2.3,-2.3,-2.2,-2.2,-2.1,-2.0,-1.8,-1.7,-1.4,-1.2,-1.0,-0.7,-0.6,-0.4,-0.2]
B_28_08 = [-1.9,-2.0,-1.9,-1.8,-1.9,-1.8,-1.7,-1.8,-1.7,-1.6,-1.6,-1.5,-1.5,-1.4,-1.4,-1.3,-1.3,-1.2,-1.2,-1.1,-1.0,-1.0,-0.9,-0.8,-0.8,-0.7,-0.6,
           -0.6,-0.5,-0.4,-0.3,-0.4,-0.5,-0.6,-0.6,-0.7,-0.7,-0.7,-0.7,-0.7,-0.6,-0.6,-0.6,-0.5,-0.5,-0.5,-0.4,-0.4,-0.3,-0.3,-0.2,-0.2,-0.1,-0.1]
B_03_09 = [2.6,2.6,2.7,2.6,2.7,2.7,2.7,2.8,2.8,2.9,3.0,3.1,3.2,3.2,3.3,3.4,3.5,3.6,3.7,3.9,4.0,4.2,4.4,4.7,5.0,5.3,5.6,
           5.5,5.2,4.8,4.4,4.2,4.0,3.8,3.6,3.3,3.0,2.6,2.2,1.8,1.3,0.9,0.5,0.3,0.2,0.1,0.1,0.1,0.0,0.0,0.0,0.0,0.0,0.0]
B_10_09 = [9.9,9.8,9.6,9.4,9.2,8.9,8.7,8.5,8.4,8.2,8.0,7.9,7.8,7.7,7.6,7.5,7.4,7.3,7.2,7.1,7.0,7.0,7.0,7.1,7.2,7.5,7.8,
           7.8,7.5,7.2,6.8,6.3,5.8,5.3,4.8,4.3,3.8,3.3,2.8,2.2,1.5,1.0,0.6,0.4,0.3,0.2,0.1,0.1,0.1,0.0,0.0,0.0,0.0,0.0]
B_17_09 = [-0.8,-0.7,-0.8,-0.7,-0.6,-0.6,-0.5,-0.5,-0.4,-0.3,-0.3,-0.2,-0.1,0.0,0.1,0.2,0.3,0.4,0.5,0.6,0.8,0.9,1.0,1.1,1.3,1.4,1.5,
           1.6,1.5,1.4,1.3,1.4,1.4,1.3,1.2,1.1,1.0,0.8,0.7,0.5,0.3,0.1,-0.1,-0.2,-0.3,-0.4,-0.4,-0.4,-0.3,-0.3,-0.2,-0.2,-0.1,-0.1]
B_24_09 = [10.4,10.4,10.3,10.3,10.2,10.0,9.7,9.4,9.0,8.8,8.6,8.3,8.1,7.9,7.8,7.6,7.5,7.4,7.5,7.7,8.0,8.2,8.4,8.6,8.9,9.2,9.6,
           9.8,9.3,8.7,8.0,7.4,6.8,6.2,5.7,5.2,4.7,4.0,3.3,2.4,1.5,0.9,0.5,0.3,0.2,0.2,0.1,0.1,0.1,0.0,0.0,0.0,0.0,0.0]
B_02_10 = [8.1,7.8,7.5,7.1,6.8,6.5,6.2,6.0,5.8,5.7,5.6,5.5,5.5,5.4,5.4,5.3,5.3,5.2,5.1,5.1,5.0,5.0,5.1,5.2,5.3,5.4,5.5,
           5.4,5.0,4.5,4.0,3.7,3.3,3.0,2.7,2.4,2.2,1.8,1.5,1.1,0.8,0.5,0.3,0.2,0.1,0.1,0.1,0.0,0.0,0.0,0.0,0.0,0.0,0.0]
B_10_10 = [-13.0,-12.9,-12.9,-12.8,-12.7,-12.5,-12.3,-12.0,-11.7,-11.3,-10.9,-10.5,-10.0,-9.6,-9.2,-8.7,-8.3,-7.8,-7.4,-6.8,-6.3,-5.7,-5.1,-4.3,-3.7,-3.0,-2.4,
           -2.0,-1.9,-1.8,-1.7,-1.8,-1.9,-1.9,-2.0,-2.0,-2.0,-2.0,-2.0,-1.9,-1.9,-1.9,-1.8,-1.7,-1.7,-1.5,-1.4,-1.2,-1.0,-0.8,-0.6,-0.5,-0.3,-0.2]

A_SERIES = [A_13_03, A_14_03, A_15_03, A_16_03, A_22_03, A_23_03, A_26_03, A_24_04, A_26_04, A_30_04,
            A_04_05, A_08_05, A_10_05, A_14_05, A_18_05, A_22_05, A_24_05, A_30_05, A_01_06, A_06_06,
            A_11_06, A_14_06, A_18_06, A_21_06, A_26_06, A_04_07, A_11_07, A_18_07, A_23_07, A_31_07,
            A_06_08, A_13_08, A_20_08, A_28_08, A_03_09, A_10_09, A_17_09, A_24_09, A_02_10, A_10_10]
B_SERIES = [B_13_03, B_14_03, B_15_03, B_16_03, B_22_03, B_23_03, B_26_03, B_24_04, B_26_04, B_30_04,
            B_04_05, B_08_05, B_10_05, B_14_05, B_18_05, B_22_05, B_24_05, B_30_05, B_01_06, B_06_06,
            B_11_06, B_14_06, B_18_06, B_21_06, B_26_06, B_04_07, B_11_07, B_18_07, B_23_07, B_31_07,
            B_06_08, B_13_08, B_20_08, B_28_08, B_03_09, B_10_09, B_17_09, B_24_09, B_02_10, B_10_10]

A_COLORS = ["#000000", "#A0524F", "#4F81BD", "#9BBB59", "#3C7DA6", "#7A5C9E", "#8DB255", "#C0504D", "#E46C0A",
            "#4BACC6", "#FAC090", "#D0803F", "#5B7FB5", "#A43E3B", "#B0C77E", "#8064A2", "#31A5C4", "#F79646",
            "#4F81BD", "#D9534F", "#9BBB59", "#634C8C", "#2FA3BF", "#F79646", "#95B3D7", "#D66E6B", "#5F4B8B",
            "#A9C77A", "#8E7CAE", "#7FC5DB", "#A4B5DA", "#E6A9A8", "#C9DBA8", "#B3A2C7", "#8FCBE0", "#FBC49A",
            "#B8CCE4", "#F2B8B6", "#D7E4BD", "#C3B8D8"]
B_COLORS = ["#000000", "#C87B79", "#4F81BD", "#000000", "#376092", "#77933C", "#000000", "#C0504D", "#E46C0A",
            "#31859C", "#FAC090", "#C0753A", "#4F81BD", "#C0504D", "#9BBB59", "#8064A2", "#4BACC6", "#F79646",
            "#4F81BD", "#C0504D", "#9BBB59", "#8064A2", "#4BACC6", "#F9A15A", "#4F81BD", "#D38482", "#77933C",
            "#B9CDE5", "#8064A2", "#4BACC6", "#C3D69B", "#95B3D7", "#E6B9B8", "#C4D79B", "#B3A2C7", "#93B9DD",
            "#FCD5B5", "#E6B9B8", "#D7E4BD", "#CCC1DA"]

W, H = 1398, 1286
FONT = "Lato"
OFF = 8  # the page body adds an 8 px margin around the figure


def px(x):
    return (x - OFF) / W


def py(y):
    return 1 - (y - OFF) / H


fig = go.Figure()


def add_panel(series, colors, xa, ya, leg, grp):
    for i, (name, vals, col) in enumerate(zip(DATES, series, colors)):
        if i == 0:
            line = dict(color="#000000", width=6)
            marker = dict(symbol="square", size=8, color="#000000")
        else:
            line = dict(color=col, width=1.2)
            marker = dict(symbol="cross-thin", size=7, line=dict(color=col, width=1.3))
        fig.add_trace(go.Scatter(
            x=vals, y=DEPTH, xaxis=xa, yaxis=ya, name=name, legend=leg,
            legendgroup=f"{grp}{i}", mode="lines+markers", line=line, marker=marker,
            hoverinfo="skip"))


add_panel(A_SERIES, A_COLORS, "x", "y", "legend", "a")
add_panel(B_SERIES, B_COLORS, "x2", "y2", "legend2", "b")

GRID = "#C9C9C9"
xcommon = dict(range=[-30, 30], tickvals=X_TICKS, ticktext=X_TICK_LABELS, showgrid=True, gridcolor=GRID,
               gridwidth=1, zeroline=False, showline=True, linecolor="#000000", linewidth=1, mirror=True,
               ticks="", ticklabelstandoff=9, automargin=False,
               tickfont=dict(size=14, family=FONT, color="#000000"))
ycommon = dict(range=[54, 0.5], tickvals=Y_TICKS, showgrid=True, gridcolor=GRID, gridwidth=1,
               zeroline=False, showline=True, linecolor="#000000", linewidth=1, mirror=True,
               ticks="", ticklabelstandoff=12, automargin=False,
               tickfont=dict(size=14, family=FONT, color="#000000"))

legcommon = dict(xanchor="left", yanchor="top", tracegroupgap=12.8, itemwidth=52,
                 font=dict(size=11.5, family=FONT, color="#000000"), bgcolor="rgba(0,0,0,0)",
                 borderwidth=0, traceorder="grouped", itemclick=False, itemdoubleclick=False)

fig.update_layout(
    width=W, height=H, margin=dict(l=0, r=0, t=0, b=0, pad=0, autoexpand=False),
    paper_bgcolor="white", plot_bgcolor="white",
    font=dict(family=FONT, size=14, color="#000000"),
    showlegend=True,
    xaxis=dict(domain=[px(103), px(519)], anchor="y", **xcommon),
    yaxis=dict(domain=[py(1197), py(86)], anchor="x", **ycommon),
    xaxis2=dict(domain=[px(879), px(1322)], anchor="y2", **xcommon),
    yaxis2=dict(domain=[py(1200), py(89)], anchor="x2", side="right", **ycommon),
    legend=dict(x=px(543), y=py(9), **legcommon),
    legend2=dict(x=px(729), y=py(9), **legcommon),
)

shapes = [
    dict(type="rect", xref="paper", yref="paper", x0=px(8), x1=px(688), y0=py(1300), y1=py(6),
         line=dict(color="#404040", width=1), fillcolor="rgba(0,0,0,0)", layer="below"),
    dict(type="rect", xref="paper", yref="paper", x0=px(712), x1=px(1390), y0=py(1300), y1=py(6),
         line=dict(color="#404040", width=1), fillcolor="rgba(0,0,0,0)", layer="below"),
    dict(type="rect", xref="paper", yref="paper", x0=px(538), x1=px(680), y0=py(1280), y1=py(6),
         line=dict(color="#000000", width=1), fillcolor="rgba(0,0,0,0)"),
    dict(type="rect", xref="paper", yref="paper", x0=px(724), x1=px(864), y0=py(1280), y1=py(6),
         line=dict(color="#000000", width=1), fillcolor="rgba(0,0,0,0)"),
]
fig.update_layout(shapes=shapes)

ann = [
    dict(text="<b>C305-IM03002 A DIRECTION</b>", x=px(324), y=py(27), font=dict(size=23, family=FONT)),
    dict(text="<b>C305-IM03002 B DIRECTION</b>", x=px(1110), y=py(30), font=dict(size=23, family=FONT)),
    dict(text="<b>Cumulative deflection (mm)</b>", x=px(322), y=py(1258), font=dict(size=15, family=FONT)),
    dict(text="<b>Cumulative deflection (mm)</b>", x=px(1081), y=py(1258), font=dict(size=15, family=FONT)),
    dict(text="<b>Depth (m)</b>", x=px(30), y=py(585), textangle=-90, font=dict(size=14, family=FONT)),
    dict(text="<b>Depth (m)</b>", x=px(1376), y=py(585), textangle=-90, font=dict(size=14, family=FONT)),
    dict(text="Learning Legacy Document", x=px(612), y=py(738), textangle=-42.5,
         font=dict(size=127, family="Liberation Sans", color="rgba(165,165,165,0.45)")),
]
for a in ann:
    a.update(xref="paper", yref="paper", showarrow=False, xanchor="center", yanchor="middle")
fig.update_layout(annotations=ann)

fig.write_html("out.html")
